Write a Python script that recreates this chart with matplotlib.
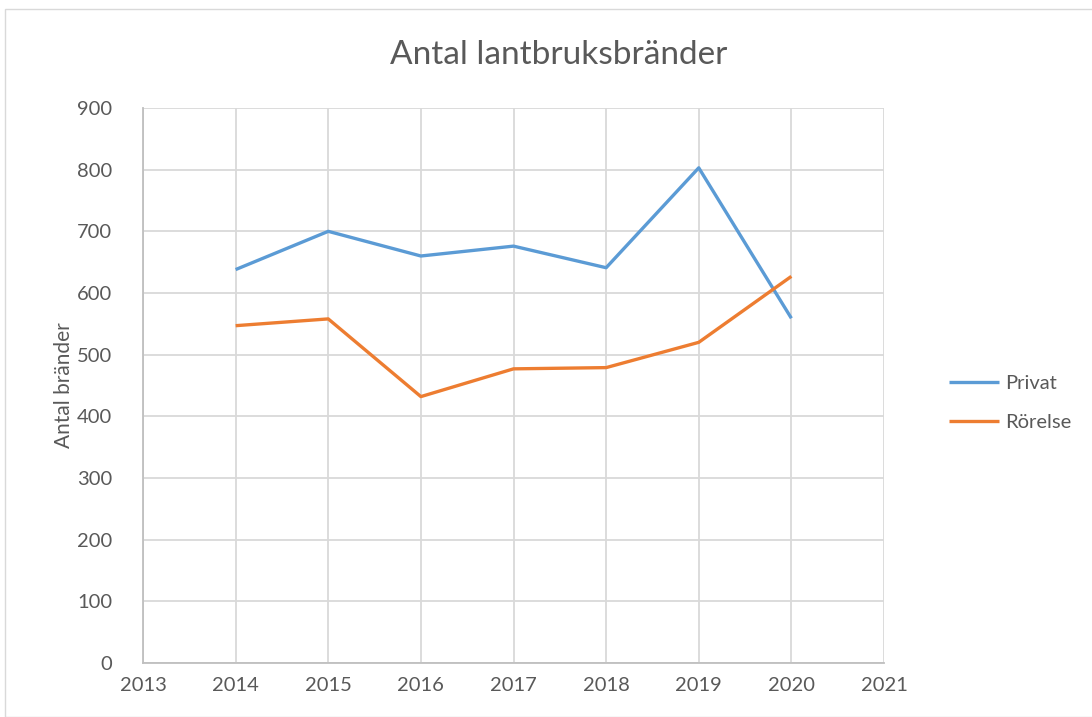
import matplotlib.pyplot as plt
from matplotlib.patches import Rectangle

years = [2014, 2015, 2016, 2017, 2018, 2019, 2020]
privat = [638, 700, 660, 676, 641, 803, 559]
rorelse = [547, 558, 432, 477, 479, 520, 627]

plt.rcParams["font.family"] = ["Lato", "DejaVu Sans"]
text_color = "#595959"
grid_color = "#d9d9d9"

fig = plt.figure(figsize=(10.92, 7.17), dpi=100)
ax = fig.add_axes([143 / 1092, 1 - 663 / 717, (884 - 143) / 1092, (663 - 108) / 717])

# chart area border
fig.patches.append(Rectangle((5 / 1092, 0), 1, 1 - 9 / 717, transform=fig.transFigure,
                             fill=False, edgecolor="#d9d9d9", linewidth=1))

ax.plot(years, privat, color="#5B9BD5", linewidth=2.4, label="Privat", solid_capstyle="butt")
ax.plot(years, rorelse, color="#ED7D31", linewidth=2.4, label="Rörelse", solid_capstyle="butt")

ax.set_xlim(2013, 2021)
ax.set_ylim(0, 900)
ax.set_xticks(range(2013, 2022))
ax.set_yticks(range(0, 901, 100))
ax.grid(True, color=grid_color, linewidth=1.3)
ax.set_axisbelow(True)
for side in ["top", "right"]:
    ax.spines[side].set_visible(False)
ax.spines["left"].set_color("#bfbfbf")
ax.spines["bottom"].set_color("#bfbfbf")
ax.spines["left"].set_linewidth(1.3)
ax.spines["bottom"].set_linewidth(1.3)
ax.tick_params(length=0, labelsize=14.5, colors=text_color, pad=10)
ax.tick_params(axis="y", pad=22)

ax.set_ylabel("Antal bränder", fontsize=15, color=text_color, labelpad=2)
fig.text(559 / 1092, 1 - 55 / 717, "Antal lantbruksbränder", ha="center", va="center",
         fontsize=24, color=text_color)

leg = ax.legend(loc="center left", bbox_to_anchor=(931 / 1092, 1 - 403 / 717),
                bbox_transform=fig.transFigure, frameon=False, fontsize=14.5,
                handlelength=2.5, labelspacing=1.1, handletextpad=0.3)
for t in leg.get_texts():
    t.set_color(text_color)

fig.savefig("out.png", dpi=100)
